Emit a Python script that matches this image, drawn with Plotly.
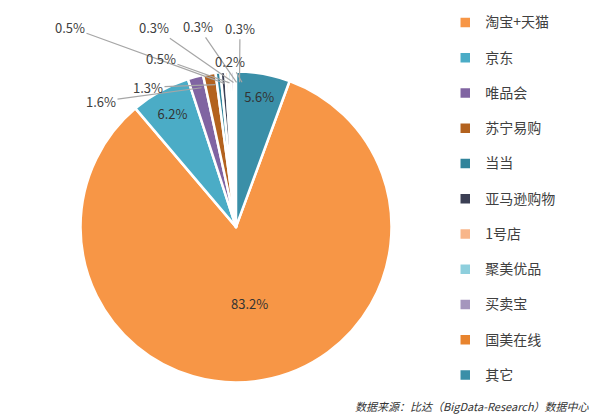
import numpy as np
import plotly.graph_objects as go

labels = ["淘宝+天猫", "京东", "唯品会", "苏宁易购", "当当", "亚马逊购物",
          "1号店", "聚美优品", "买卖宝", "国美在线", "其它"]
values = [83.2, 6.2, 1.6, 1.3, 0.5, 0.5, 0.3, 0.3, 0.3, 0.2, 5.6]
colors = ["#F79646", "#4BACC6", "#8064A2", "#B3621E", "#31849B", "#3B3F54",
          "#F8B68A", "#8ECFDD", "#A596BD", "#E8842E", "#3A8FA8"]
inside = [True, True, False, False, False, False, False, False, False, False, True]
# where the outside labels sit (pixels from top-left)
label_px = {2: (93, 90), 3: (140, 76), 4: (62, 16), 5: (153, 47),
            6: (146, 16), 7: (190, 15), 8: (232, 17), 9: (222, 50)}

W, H = 599, 418
cx, cy, R = 235, 230, 157
rot = values[-1] * 3.6

texts = [f"{v}%" if ins else "" for v, ins in zip(values, inside)]
leg = [f"<span style='font-size:14px'>{l}</span><br> " for l in labels]

fig = go.Figure(go.Pie(
    labels=leg, values=values, sort=False, direction="clockwise",
    rotation=rot, marker=dict(colors=colors, line=dict(color="white", width=2.5)),
    text=texts, textinfo="text", textposition="inside",
    insidetextfont=dict(size=13, color="#333333", family="Noto Sans CJK SC"),
    domain=dict(x=[(cx - 7 - R) / W, (cx - 7 + R) / W],
                y=[1 - (cy - 13 + R) / H, 1 - (cy - 13 - R) / H]),
))

cum = np.cumsum([0] + values[:-1])
for i, (lx, ly) in label_px.items():
    th = np.radians(rot + (cum[i] + values[i] / 2) * 3.6)
    tx = cx + (R + 2) * np.sin(th)
    ty = cy - (R + 2) * np.cos(th)
    fig.add_annotation(x=tx / W, y=1 - ty / H, xref="paper", yref="paper",
                       text=f"{values[i]}%", showarrow=True, arrowhead=0,
                       arrowcolor="#A6A6A6", arrowwidth=1.2,
                       ax=lx - tx, ay=ly - ty,
                       font=dict(size=13, color="#404040"))

fig.add_annotation(x=0.975, y=0.025, xref="paper", yref="paper", xanchor="right",
                   yanchor="bottom", showarrow=False,
                   text="<i>数据来源：比达（BigData-Research）数据中心</i>",
                   font=dict(size=11, color="#333333", family="Noto Sans CJK SC"))

fig.update_layout(
    width=W, height=H, margin=dict(l=0, r=0, t=0, b=0),
    paper_bgcolor="white", plot_bgcolor="white",
    font=dict(family="Noto Sans CJK SC", color="#404040"),
    legend=dict(x=0.73, y=1.01, xanchor="left", yanchor="top", valign="top",
                font=dict(size=12.4, color="#404040"), itemwidth=30, maxheight=1),
)

fig.write_html("out.html")
